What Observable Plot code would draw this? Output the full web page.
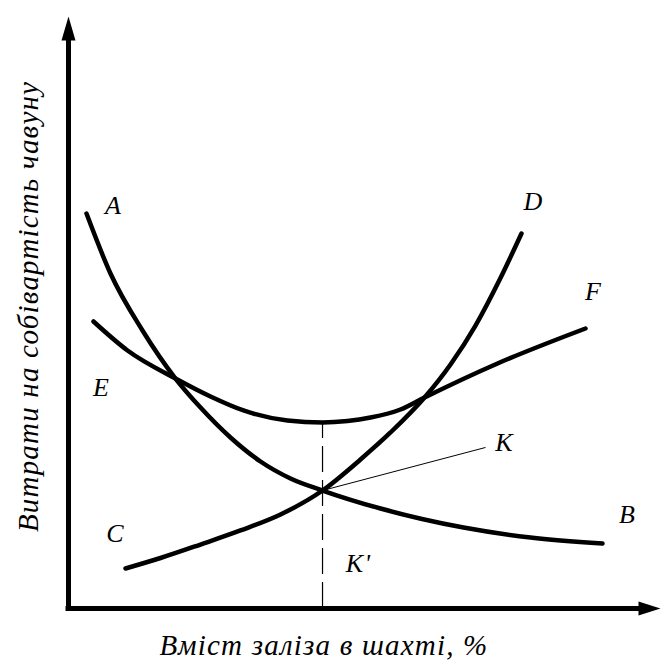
<!DOCTYPE html>
<html><head><meta charset="utf-8">
<script src="https://cdn.jsdelivr.net/npm/d3@7"></script>
<script src="https://cdn.jsdelivr.net/npm/@observablehq/plot@0.6"></script>
<style>
body{margin:0;background:#fff}
#xtitle{font-family:'Liberation Serif';font-style:italic;font-size:29px;letter-spacing:1.2px;width:648px;text-align:center;line-height:31px;height:31px;color:#000}
</style>
</head><body><div id="chart"></div><div id="xtitle">Вміст заліза в шахті, %</div>
<script>
// Curve A–B (decreasing cost component)
const xAB = [3.04, 7.09, 12.50, 18.07, 22.30, 27.36, 32.43, 37.50, 42.91, 52.70, 66.72, 78.04, 90.20];
const yAB = [66.72, 56.59, 46.96, 38.85, 33.95, 28.89, 24.83, 21.96, 19.93, 16.89, 13.68, 11.99, 10.98];
// Curve C–D (increasing cost component)
const xCD = [9.63, 15.54, 22.30, 29.05, 35.81, 42.91, 49.32, 54.39, 60.14, 64.53, 68.75, 72.97, 76.52];
const yCD = [6.76, 8.53, 10.81, 13.18, 15.88, 19.93, 25.17, 29.73, 35.64, 41.22, 47.80, 55.83, 63.34];
// Curve E–F (total)
const xEF = [4.22, 9.97, 18.07, 23.99, 29.56, 36.99, 42.91, 47.13, 51.01, 56.08, 60.14, 72.47, 87.33];
const yEF = [48.48, 43.58, 38.85, 35.81, 33.45, 31.76, 31.42, 31.67, 32.26, 33.61, 35.64, 41.39, 47.30];
// Optimum point K and its projection K'
const kX = 42.91, kY = 19.93, efMin = 31.42;
const leaderEnd = [70.44, 27.20];
// Point labels
const labelText = ["A", "B", "C", "D", "E", "F", "K", "K'"];
const labelX = [7.60, 94.43, 7.94, 78.55, 5.57, 88.68, 73.65, 48.99];
const labelY = [68.07, 15.88, 12.67, 68.75, 37.33, 53.55, 28.04, 7.60];
const yTitle = "Витрати на собівартість чавуну";

const toRows = (xs, ys) => xs.map((x, i) => ({x, y: ys[i]}));
const ab = toRows(xAB, yAB), cd = toRows(xCD, yCD), ef = toRows(xEF, yEF);
const labels = labelText.map((t, i) => ({t, x: labelX[i], y: labelY[i]}));

const arrowUp = {draw(ctx) { ctx.moveTo(0, 0); ctx.lineTo(7, 24); ctx.lineTo(-7, 24); ctx.closePath(); }};
const arrowRight = {draw(ctx) { ctx.moveTo(0, 0); ctx.lineTo(-22, 7); ctx.lineTo(-22, -7); ctx.closePath(); }};

const font = "Liberation Serif";
const lineOpts = {x: "x", y: "y", curve: "monotone-x", stroke: "black", strokeWidth: 4.5, strokeLinecap: "round"};

const chart = Plot.plot({
  width: 661, height: 630,
  marginLeft: 68, marginRight: 1, marginTop: 16, marginBottom: 22,
  x: {domain: [0, 100], axis: null},
  y: {domain: [0, 100], axis: null},
  style: {letterSpacing: "1.2px"},
  marks: [
    Plot.ruleX([kX], {y1: 0, y2: efMin, stroke: "black", strokeWidth: 1.2, strokeDasharray: "26,8"}),
    Plot.link([{x1: kX, y1: kY, x2: leaderEnd[0], y2: leaderEnd[1]}], {x1: "x1", y1: "y1", x2: "x2", y2: "y2", stroke: "black", strokeWidth: 1}),
    Plot.line(ab, lineOpts),
    Plot.line(cd, lineOpts),
    Plot.line(ef, lineOpts),
    Plot.ruleX([0], {y1: 0, y2: 97, stroke: "black", strokeWidth: 5, strokeLinecap: "square"}),
    Plot.ruleY([0], {x1: 0, x2: 97, stroke: "black", strokeWidth: 5, strokeLinecap: "square"}),
    Plot.dot([{x: 0, y: 100}], {x: "x", y: "y", symbol: arrowUp, fill: "black", stroke: "none"}),
    Plot.dot([{x: 100, y: 0}], {x: "x", y: "y", symbol: arrowRight, fill: "black", stroke: "none"}),
    Plot.text(labels, {x: "x", y: "y", text: "t", fontSize: 26, fontFamily: font, fontStyle: "italic", fill: "black", textAnchor: "middle", lineAnchor: "middle"}),
    Plot.text([yTitle], {text: d => d, frameAnchor: "left", dx: -40, dy: -6, rotate: -90, fontSize: 29, fontFamily: font, fontStyle: "italic", fill: "black", textAnchor: "middle", lineAnchor: "middle"})
  ]
});
document.getElementById("chart").append(chart);
</script></body></html>
